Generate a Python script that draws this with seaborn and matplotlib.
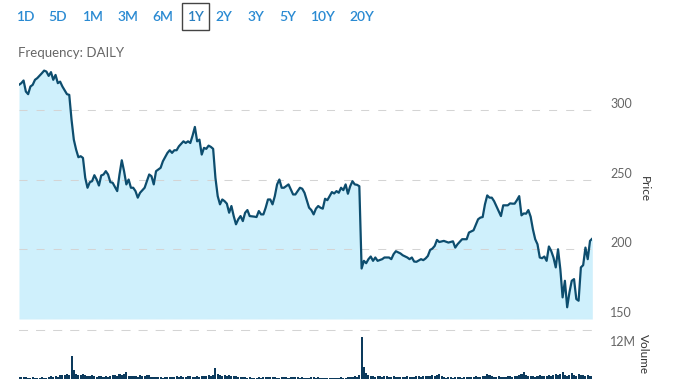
import matplotlib
matplotlib.use("Agg")
import matplotlib.pyplot as plt
import matplotlib.patches as patches
import pandas as pd
import seaborn as sns

# 期間ボタン
ranges = ["1D", "5D", "1M", "3M", "6M", "1Y", "2Y", "3Y", "5Y", "10Y", "20Y"]
selected = "1Y"

# 日次終値（取引日インデックス → 価格）
days = [0, 1, 2, 3, 4, 5, 6, 7, 8, 10, 11, 12, 13, 14, 15, 16, 17, 18, 19, 21,
        22, 23, 24, 25, 26, 27, 28, 29, 30, 31, 32, 33, 34, 35, 36, 37, 38, 39, 40, 41,
        43, 44, 45, 46, 47, 48, 49, 50, 51, 52, 53, 55, 56, 57, 58, 59, 60, 62, 63, 65,
        66, 67, 68, 69, 70, 72, 73, 74, 75, 76, 77, 78, 79, 80, 81, 82, 83, 84, 85, 86,
        87, 88, 89, 90, 91, 92, 93, 94, 95, 96, 97, 98, 99, 100, 101, 103, 104, 105, 106, 107,
        108, 109, 110, 111, 112, 113, 114, 115, 116, 118, 119, 120, 121, 122, 123, 124, 125, 127, 128, 129,
        130, 131, 132, 133, 134, 135, 137, 138, 139, 140, 141, 142, 143, 144, 145, 146, 147, 148, 149, 150,
        151, 152, 153, 154, 155, 156, 157, 159, 160, 162, 163, 164, 165, 167, 168, 170, 171, 172, 173, 174,
        176, 177, 178, 179, 180, 181, 182, 183, 184, 186, 188, 190, 191, 192, 194, 196, 197, 199, 201, 202,
        203, 204, 205, 206, 207, 208, 210, 211, 212, 214, 215, 216, 217, 218, 219, 220, 221, 222, 223, 224,
        225, 226, 227, 228, 229, 230, 231, 232, 233, 234, 235, 236, 237, 238, 239, 240, 241, 242, 243, 244,
        245, 246, 247, 248, 249, 250, 251]
prices = [317.9, 319.1, 321.0, 313.1, 311.2, 316.7, 317.9, 321.5, 322.7, 326.2, 328.1, 327.4, 324.3, 327.0, 321.5, 325.0, 319.1, 320.2, 316.7, 311.2,
          310.7, 292.9, 278.6, 271.5, 266.0, 266.7, 265.5, 251.2, 244.1, 248.1, 248.8, 253.1, 250.0, 245.7, 252.9, 253.6, 256.0, 253.6, 248.1, 247.7,
          241.7, 253.6, 263.8, 256.0, 246.5, 250.0, 244.1, 244.1, 241.7, 237.0, 240.5, 244.1, 248.8, 253.6, 252.4, 246.5, 256.0, 258.4, 263.1, 269.1,
          271.0, 269.1, 271.0, 271.0, 273.8, 277.4, 276.2, 277.4, 276.2, 281.5, 287.7, 277.4, 278.6, 267.9, 272.7, 272.0, 274.3, 273.4, 272.0, 251.2,
          238.1, 232.2, 235.7, 234.5, 232.7, 226.2, 231.0, 223.8, 217.9, 221.5, 223.8, 220.2, 226.2, 228.1, 223.8, 223.4, 223.1, 227.4, 225.0, 225.0,
          229.8, 235.7, 235.7, 232.2, 238.1, 246.5, 250.0, 244.1, 244.1, 246.5, 242.9, 239.3, 239.3, 241.7, 244.1, 243.4, 240.5, 229.8, 228.1, 225.0,
          229.1, 231.0, 229.8, 229.1, 236.2, 235.2, 241.0, 240.0, 241.7, 240.5, 244.1, 242.4, 246.5, 239.8, 245.2, 248.8, 246.5, 246.2, 245.2, 186.2,
          191.7, 190.0, 192.9, 194.8, 191.7, 194.1, 191.7, 192.9, 194.1, 194.1, 192.9, 196.5, 198.6, 197.0, 195.7, 194.1, 192.9, 194.1, 191.2, 191.0,
          192.9, 192.2, 193.4, 195.2, 199.5, 200.5, 202.4, 206.7, 205.2, 206.0, 204.8, 205.7, 201.2, 203.6, 207.2, 207.2, 212.0, 213.6, 221.5, 222.7,
          223.1, 232.2, 238.6, 237.0, 237.0, 234.5, 227.4, 223.8, 231.5, 231.5, 232.9, 232.7, 232.7, 235.2, 238.1, 224.3, 225.7, 225.5, 228.1, 223.4,
          214.3, 207.2, 203.6, 194.1, 193.6, 194.8, 191.7, 202.0, 198.8, 194.1, 187.0, 200.0, 185.7, 165.5, 177.4, 158.4, 169.1, 177.4, 178.6, 164.3,
          163.1, 187.0, 188.6, 201.2, 192.9, 206.0, 207.7]

# 出来高（百万株、取引日 0〜251）
volume_m = [0.8, 0.9, 0.7, 0.8, 0.5, 0.4, 0.6, 0.5, 0.4, 0.5, 0.6, 0.5,
            0.4, 0.9, 1.0, 0.8, 1.1, 0.9, 1.5, 1.7, 1.4, 2.0, 1.6, 8.9,
            3.3, 2.0, 1.7, 1.5, 1.9, 1.6, 1.2, 1.0, 1.4, 1.3, 0.9, 1.3,
            1.2, 0.9, 1.1, 0.8, 1.0, 1.4, 1.5, 1.1, 1.8, 1.6, 2.0, 2.9,
            1.3, 1.2, 1.0, 1.1, 0.9, 1.7, 1.2, 1.0, 1.5, 1.4, 0.9, 0.8,
            0.9, 0.7, 0.6, 0.5, 0.6, 0.7, 0.8, 0.7, 0.9, 1.0, 0.8, 1.1,
            0.9, 0.7, 1.0, 1.2, 0.8, 0.9, 1.1, 0.9, 1.3, 1.0, 1.2, 1.4,
            1.3, 1.5, 4.3, 2.0, 1.5, 1.2, 1.4, 1.3, 1.6, 1.2, 1.0, 1.1,
            0.9, 0.8, 0.7, 0.6, 0.5, 0.7, 0.5, 0.4, 0.5, 0.6, 0.5, 0.7,
            0.6, 0.8, 0.9, 0.6, 0.7, 0.5, 0.4, 0.6, 0.7, 0.6, 0.5, 0.8,
            0.9, 0.7, 0.6, 0.5, 0.6, 0.4, 0.3, 0.5, 0.6, 0.7, 0.5, 0.8,
            0.3, 0.2, 0.4, 0.3, 0.5, 0.4, 0.3, 0.4, 0.5, 0.6, 0.4, 0.5,
            0.6, 0.7, 0.9, 1.0, 0.8, 1.6, 16.4, 4.7, 2.4, 1.6, 1.0, 1.2,
            0.9, 1.3, 1.1, 0.8, 1.0, 1.2, 0.7, 0.9, 1.1, 0.8, 0.6, 0.7,
            0.9, 0.8, 1.0, 0.7, 0.6, 0.9, 1.2, 1.0, 0.8, 1.1, 1.3, 1.2,
            1.0, 1.4, 1.2, 1.6, 2.0, 1.1, 0.6, 0.5, 0.7, 0.6, 0.5, 0.8,
            0.6, 0.7, 0.5, 0.6, 0.9, 0.7, 0.6, 0.8, 1.0, 0.7, 0.9, 1.2,
            1.0, 2.0, 1.5, 1.0, 0.9, 0.8, 1.1, 0.9, 0.7, 0.8, 1.0, 1.2,
            0.9, 1.0, 1.3, 1.6, 1.8, 2.9, 1.4, 1.0, 1.1, 1.3, 0.9, 1.2,
            1.4, 1.3, 1.0, 1.2, 1.5, 1.1, 1.6, 1.8, 1.5, 1.9, 2.7, 1.6,
            1.3, 1.7, 2.4, 1.5, 1.2, 1.8, 1.4, 1.6, 1.3, 1.5, 1.2, 1.0]

price_ticks = [150, 200, 250, 300]
volume_ticks = [12]
volume_tick_labels = ["12M"]

LINE = "#0d4d6e"
FILL = "#cff0fc"
BAR = "#0c3a5c"
GRID = "#d4d4d4"
BLUE = "#2a8ad2"

sns.set_theme(style="white")
plt.rcParams['font.family'] = ['Lato', 'DejaVu Sans']

W, H = 678, 381
fig = plt.figure(figsize=(W / 100, H / 100), dpi=100)


def px(x0, y0, x1, y1):
    # ピクセル座標 → figure座標
    return [x0 / W, 1 - y1 / H, (x1 - x0) / W, (y1 - y0) / H]


ax = fig.add_axes(px(19, 60, 592.3, 319))
axv = fig.add_axes(px(19, 330, 592.3, 379))

price_df = pd.DataFrame({"day": days, "price": prices})
vol_df = pd.DataFrame({"day": range(len(volume_m)), "volume": volume_m})

# 価格チャート
ax.fill_between(price_df["day"], price_df["price"], price_ticks[0], color=FILL, linewidth=0, zorder=0.2)
sns.lineplot(data=price_df, x="day", y="price", ax=ax, color=LINE, linewidth=1.6, zorder=3)
ax.set_xlim(0, 251)
ax.set_ylim(150, 335.7)
ax.set_yticks(price_ticks)
ax.set_axisbelow(True)
ax.grid(axis="y", color=GRID, linestyle=(0, (7.7, 8.7)), linewidth=0.75)
ax.set_xticks([])
ax.set_xlabel("")
ax.yaxis.tick_right()
ax.tick_params(axis="y", length=0, pad=13, labelsize=9, labelcolor="#666666")
for lbl in ax.get_yticklabels():
    lbl.set_va("bottom")
ax.yaxis.set_label_position("right")
ax.set_ylabel("Price", rotation=-90, fontsize=8.5, color="#333333", va="center")
ax.yaxis.set_label_coords(1.09, 0.5)
for s in ax.spines.values():
    s.set_visible(False)

# 出来高
sns.barplot(data=vol_df, x="day", y="volume", ax=axv, native_scale=True,
            color=BAR, saturation=1, width=0.9, linewidth=0)
axv.set_xlim(0, 251)
axv.set_ylim(0, 18.97)
axv.set_yticks(volume_ticks)
axv.set_yticklabels(volume_tick_labels)
axv.set_xticks([])
axv.set_xlabel("")
axv.grid(False)
axv.yaxis.tick_right()
axv.tick_params(axis="y", length=0, pad=13, labelsize=9, labelcolor="#666666")
for lbl in axv.get_yticklabels():
    lbl.set_va("bottom")
axv.yaxis.set_label_position("right")
axv.set_ylabel("Volume", rotation=-90, fontsize=8.5, color="#333333", va="center")
axv.yaxis.set_label_coords(1.09, 0.5)
for name, s in axv.spines.items():
    s.set_visible(name == "top")
axv.spines["top"].set_color(GRID)
axv.spines["top"].set_linestyle((0, (7.7, 8.7)))
axv.spines["top"].set_linewidth(0.75)

# 上部の期間ボタン
centers = [25.5, 58, 92, 128, 162.5, 195, 224, 256, 288, 322, 361.5]
for label, cx in zip(ranges, centers):
    fig.text(cx / W, 1 - 17 / H, label, ha="center", va="center",
             fontsize=10, fontweight="semibold",
             color=BLUE if label != selected else "#2a7fc0")
sel = centers[ranges.index(selected)]
fig.add_artist(patches.Rectangle(((sel - 13.5) / W, 1 - 29.5 / H), 27 / W, 26 / H,
                                 transform=fig.transFigure, fill=False,
                                 edgecolor="#444444", linewidth=1))

fig.text(18 / W, 1 - 53 / H, "Frequency: DAILY", ha="left", va="center",
         fontsize=9.5, color="#666666")

fig.savefig("out.png", dpi=100)
